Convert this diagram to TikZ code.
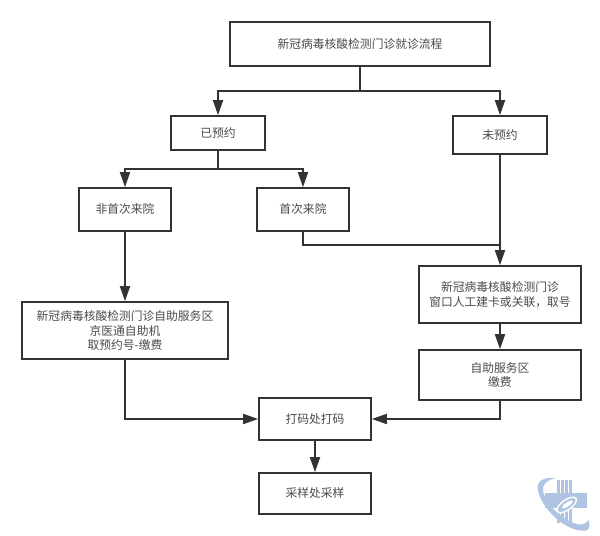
\documentclass[tikz,border=0pt]{standalone}
\usepackage{fontspec}
\setmainfont{Noto Sans CJK SC}
\usetikzlibrary{arrows.meta}
\definecolor{linegray}{HTML}{333333}
\definecolor{textgray}{HTML}{4A4A4A}
\definecolor{logoblue}{HTML}{AFC4E2}
\tikzset{
  flowbox/.style={draw=linegray,line width=0.95pt,fill=white,align=center,text=textgray,
    font=\fontsize{6.7}{8.3}\selectfont,inner sep=0pt},
  flowline/.style={draw=linegray,line width=1pt},
}

\begin{document}
\begin{tikzpicture}[x=0.02cm,y=-0.02cm,>={Triangle[length=0.3cm,width=0.2cm]}]

  \useasboundingbox (0,0) rectangle (600,536);

  % Titolo
  \node[flowbox,minimum width=5.2cm,minimum height=0.88cm] (title) at (360,44) {新冠病毒核酸检测门诊就诊流程};

  % Dua branco
  \node[flowbox,minimum width=1.88cm,minimum height=0.68cm] (booked) at (218,133) {已预约};
  \node[flowbox,minimum width=1.88cm,minimum height=0.76cm] (unbooked) at (500,135) {未预约};
  \node[flowbox,minimum width=1.84cm,minimum height=0.86cm] (repeatvisit) at (125,209.5) {非首次来院};
  \node[flowbox,minimum width=1.84cm,minimum height=0.86cm] (firstvisit) at (303,209.5) {首次来院};

  % Servoj
  \node[flowbox,minimum width=4.12cm,minimum height=1.14cm] (kiosk) at (125,330.5)
    {新冠病毒核酸检测门诊自助服务区\\京医通自助机\\取预约号-缴费};
  \node[flowbox,minimum width=3.24cm,minimum height=1.14cm] (window) at (500,294.5)
    {新冠病毒核酸检测门诊\\窗口人工建卡或关联，取号};
  \node[flowbox,minimum width=3.24cm,minimum height=1cm] (pay) at (500,375) {自助服务区\\缴费};

  % Fino
  \node[flowbox,minimum width=2.24cm,minimum height=0.84cm] (printcode) at (315,419) {打码处打码};
  \node[flowbox,minimum width=2.24cm,minimum height=0.82cm] (sample) at (315,493.5) {采样处采样};

  % Forkoj
  \coordinate (splittop) at (360,91);
  \coordinate (splitbooked) at (218,169);
  \coordinate (join) at (500,245);

  \draw[flowline] (title) -- (splittop);
  \draw[flowline,->] (splittop) -| (booked);
  \draw[flowline,->] (splittop) -| (unbooked);

  \draw[flowline] (booked) -- (splitbooked);
  \draw[flowline,->] (splitbooked) -| (repeatvisit);
  \draw[flowline,->] (splitbooked) -| (firstvisit);

  \draw[flowline,->] (repeatvisit) -- (kiosk);
  \draw[flowline] (firstvisit) |- (join);
  \draw[flowline,->] (unbooked) -- (window);
  \draw[flowline,->] (window) -- (pay);

  \draw[flowline,->] (kiosk) |- (printcode);
  \draw[flowline,->] (pay) |- (printcode);
  \draw[flowline,->] (printcode) -- (sample);

  % Emblemo
  \begin{scope}[shift={(520,460)},x=0.00667cm,y=-0.00667cm]
    \fill[logoblue] (75,100) rectangle (200,145);
    \foreach \stripe in {110,122,134,146} {
      \fill[logoblue] (\stripe,60) rectangle (\stripe+9,190);
    }
    \fill[logoblue] (105,55) .. controls (70,50) and (45,65) .. (55,95)
      .. controls (65,140) and (130,215) .. (195,212)
      .. controls (210,210) and (212,195) .. (205,180)
      .. controls (200,190) and (190,195) .. (175,193)
      .. controls (130,185) and (60,120) .. (70,80)
      .. controls (75,65) and (90,58) .. (105,55) -- cycle;
    \draw[white,line width=0.8pt,fill=logoblue,rotate around={35:(140,135)}] (140,135) ellipse (34 and 15);
    \fill[white,rotate around={35:(140,135)}] (143,135) ellipse (20 and 6);
  \end{scope}

\end{tikzpicture}
\end{document}
